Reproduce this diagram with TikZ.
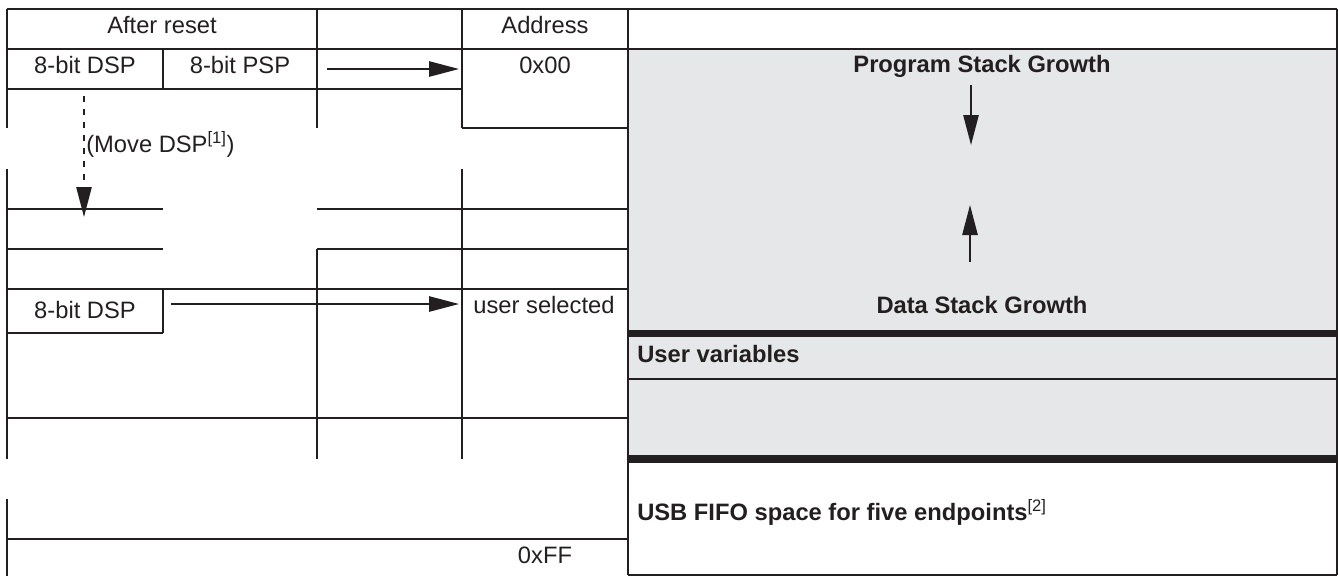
\documentclass[tikz,border=0pt]{standalone}
\usepackage{fontspec}
\setmainfont{Liberation Sans}
\usepackage{tikz}
\usetikzlibrary{arrows.meta}
\definecolor{inkblack}{HTML}{231F20}
\definecolor{stackgray}{HTML}{E6E7E8}

\begin{document}
\begin{tikzpicture}[x=0.75pt,y=0.75pt,yscale=-1,xscale=1,
  every node/.style={inner sep=0pt,text=inkblack,font=\fontsize{17.8}{21}\selectfont},
  tline/.style={draw=inkblack,line width=1.2pt},
  bline/.style={draw=inkblack,line width=5.6pt},
  ptrarrow/.style={draw=inkblack,line width=1.2pt,-{Triangle[length=22.5pt,width=11.5pt]}}]
\useasboundingbox (0,0) rectangle (1338,576);

%Shape: Rectangle [id:stackarea]
\fill [stackgray] (628,49) -- (1337,49) -- (1337,459) -- (628,459) -- cycle ;

%Shape: Horizontal lines
\draw [tline] (7,9) -- (1337,9) ;
\draw [tline] (7,49) -- (1337,49) ;
\draw [tline] (7,89) -- (462,89) ;
\draw [tline] (462,128) -- (628,128) ;
\draw [tline] (7,209) -- (163,209) ;
\draw [tline] (317,209) -- (628,209) ;
\draw [tline] (7,249) -- (163,249) ;
\draw [tline] (317,249) -- (628,249) ;
\draw [tline] (7,289) -- (628,289) ;
\draw [tline] (7,333) -- (163,333) ;
\draw [tline] (7,418) -- (628,418) ;
\draw [tline] (7,539) -- (628,539) ;
\draw [tline] (628,379) -- (1337,379) ;
\draw [tline] (628,575) -- (1337,575) ;
%Shape: Thick lines
\draw [bline] (628,333.5) -- (1337,333.5) ;
\draw [bline] (628,459) -- (1337,459) ;

%Shape: Vertical lines
\draw [tline] (7,9) -- (7,128) ;
\draw [tline] (7,169) -- (7,459) ;
\draw [tline] (7,499) -- (7,576) ;
\draw [tline] (163,49) -- (163,89) ;
\draw [tline] (163,289) -- (163,333) ;
\draw [tline] (317,9) -- (317,128) ;
\draw [tline] (317,249) -- (317,459) ;
\draw [tline] (462,9) -- (462,128) ;
\draw [tline] (462,169) -- (462,459) ;
\draw [tline] (628,9) -- (628,575) ;
\draw [tline] (1337,9) -- (1337,575) ;

% Text Node
\draw (162,33) node (afterreset) [anchor=base] {After reset};
% Text Node
\draw (545,33) node (address) [anchor=base] {Address};
% Text Node
\draw (85,73) node (dspreset) [anchor=base] {8-bit DSP};
% Text Node
\draw (240,73) node (pspreset) [anchor=base] {8-bit PSP};
% Text Node
\draw (545,73) node (addrlow) [anchor=base] {0x00};
% Text Node
\draw (86,152) node (movedsp) [anchor=base west] {(Move DSP\textsuperscript{[1]})};
% Text Node
\draw (85,318) node (dspmoved) [anchor=base] {8-bit DSP};
% Text Node
\draw (544,313) node (addrsel) [anchor=base] {user selected};
% Text Node
\draw (545,563) node (addrhigh) [anchor=base] {0xFF};
% Text Node
\draw (982,72) node (progstack) [anchor=base] {\bfseries Program Stack Growth};
% Text Node
\draw (982,313) node (datastack) [anchor=base] {\bfseries Data Stack Growth};
% Text Node
\draw (637,362) node (uservars) [anchor=base west] {\bfseries User variables};
% Text Node
\draw (637,520) node (usbfifo) [anchor=base west] {\textbf{USB FIFO space for five endpoints}\textsuperscript{[2]}};

%Shape: Arrows
\coordinate (pspstart) at (327,69) ;
\coordinate (pspend) at (459,69) ;
\coordinate (dspstart) at (171,304) ;
\coordinate (dspend) at (459,304) ;
\coordinate (movestart) at (84,96) ;
\coordinate (moveend) at (84,217) ;
\coordinate (progstart) at (971,85) ;
\coordinate (progend) at (971,145) ;
\coordinate (datastart) at (970,262) ;
\coordinate (dataend) at (970,205) ;
\draw [ptrarrow] (pspstart) -- (pspend) ;
\draw [ptrarrow] (dspstart) -- (dspend) ;
\draw [ptrarrow] [dash pattern={on 4.5pt off 5.25pt}] (movestart) -- (moveend) ;
\draw [ptrarrow] (progstart) -- (progend) ;
\draw [ptrarrow] (datastart) -- (dataend) ;

\end{tikzpicture}
\end{document}
